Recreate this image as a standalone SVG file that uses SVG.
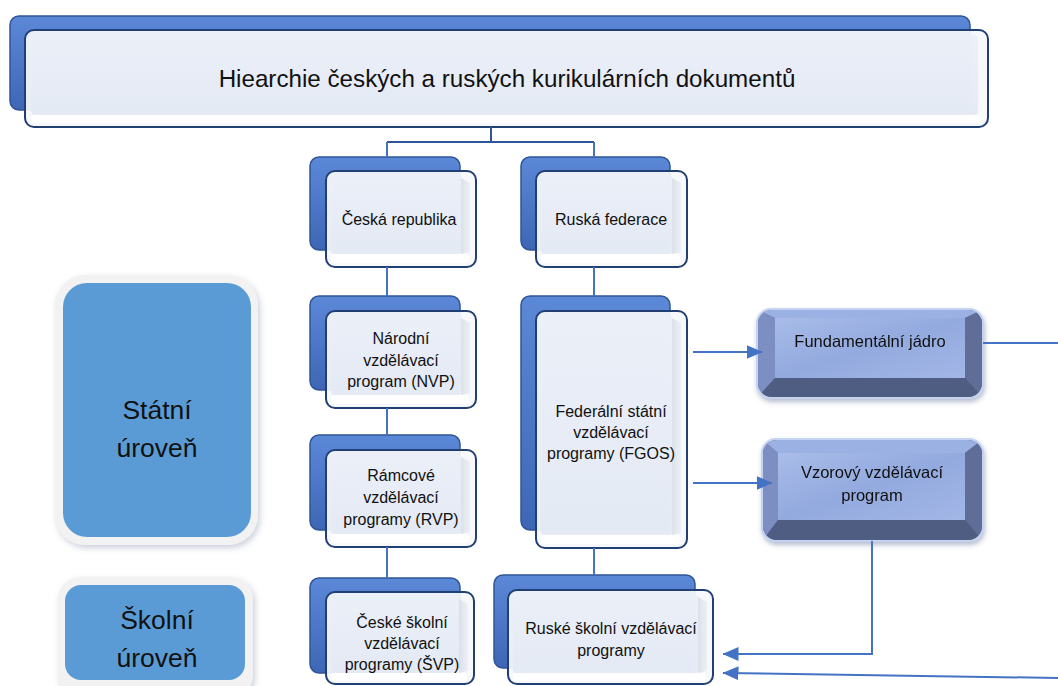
<svg xmlns="http://www.w3.org/2000/svg" width="1058" height="686" viewBox="0 0 1058 686">
  <defs>
    <linearGradient id="backGrad" x1="0" y1="0" x2="0" y2="1">
      <stop offset="0" stop-color="#5C88D8"/>
      <stop offset="1" stop-color="#3E66B5"/>
    </linearGradient>
    <linearGradient id="faceGrad" x1="0" y1="0" x2="0" y2="1">
      <stop offset="0" stop-color="#EBEFF8"/>
      <stop offset="1" stop-color="#E3E9F4"/>
    </linearGradient>
    <linearGradient id="rightBevel" x1="0" y1="0" x2="1" y2="0">
      <stop offset="0" stop-color="#D6DBE5"/>
      <stop offset="1" stop-color="#E9EDF4"/>
    </linearGradient>
    <linearGradient id="bevelFace" x1="0" y1="0" x2="1" y2="1">
      <stop offset="0" stop-color="#A9BCE9"/>
      <stop offset="0.5" stop-color="#93AADF"/>
      <stop offset="1" stop-color="#A3B7E6"/>
    </linearGradient>
    <filter id="softShadow" x="-10%" y="-10%" width="125%" height="125%">
      <feDropShadow dx="2" dy="3" stdDeviation="3" flood-color="#6A7A99" flood-opacity="0.35"/>
    </filter>
    <filter id="glow" x="-10%" y="-10%" width="120%" height="125%">
      <feDropShadow dx="1" dy="3" stdDeviation="2.5" flood-color="#5B6B90" flood-opacity="0.45"/>
    </filter>
    <clipPath id="clipFund"><rect x="758" y="310" width="224" height="87" rx="14"/></clipPath>
    <clipPath id="clipVzor"><rect x="763" y="440" width="219" height="100" rx="14"/></clipPath>
    <marker id="arrow" viewBox="0 0 16 14" refX="15.5" refY="7" markerWidth="16" markerHeight="14" markerUnits="userSpaceOnUse" orient="auto">
      <path d="M0,0 L16,7 L0,14 Z" fill="#4472C4"/>
    </marker>
    <style>
      .back { fill: url(#backGrad); stroke: #2F5597; stroke-width: 1.5; }
      .front { fill: #F5F7FB; fill-opacity: 0.93; stroke: #213F73; stroke-width: 2; }
      .face { fill: url(#faceGrad); fill-opacity: 0.9; }
      .rbevel { fill: url(#rightBevel); fill-opacity: 0.8; }
      .bbevel { fill: #FFFFFF; }
      .conn { fill: none; stroke: #4472C4; stroke-width: 2; }
      .trunk { fill: none; stroke: #2F5597; stroke-width: 2; }
      .lbl { font-family: "Liberation Sans", Arial, sans-serif; font-size: 16px; fill: #111; text-anchor: middle; }
      .title { font-family: "Liberation Sans", Arial, sans-serif; font-size: 24.2px; fill: #111; text-anchor: middle; }
      .lvl { font-family: "Liberation Sans", Arial, sans-serif; font-size: 26.5px; fill: #111; text-anchor: middle; }
      .blbl { font-family: "Liberation Sans", Arial, sans-serif; font-size: 16.5px; fill: #111; text-anchor: middle; }
      .frame { fill: #F2F2F2; filter: url(#softShadow); }
      .levelFill { fill: #5B9BD5; }
    </style>
  </defs>

  <rect width="1058" height="686" fill="#FFFFFF"/>

  <!-- title -->
  <g id="title">
    <rect class="back" x="10" y="16" width="960" height="94" rx="9"/>
    <rect class="front" x="25" y="30" width="963" height="97" rx="9"/>
    <rect class="face" x="31" y="35" width="947" height="80" rx="4"/>
    <rect class="bbevel" x="31" y="115" width="950" height="8" rx="3"/>
    <text class="title" x="507" y="87">Hiearchie českých a ruských kurikulárních dokumentů</text>
  </g>

  <!-- level labels -->
  <g id="statni-uroven">
    <rect class="frame" x="55" y="275" width="203" height="270" rx="30"/>
    <rect class="levelFill" x="63" y="283" width="188" height="254" rx="24"/>
    <text class="lvl" x="157" y="419">Státní</text>
    <text class="lvl" x="157" y="457">úroveň</text>
  </g>
  <g id="skolni-uroven">
    <rect class="frame" x="58" y="577" width="195" height="120" rx="22"/>
    <rect class="levelFill" x="65" y="585" width="180" height="95" rx="16"/>
    <text class="lvl" x="157" y="629">Školní</text>
    <text class="lvl" x="157" y="667">úroveň</text>
  </g>

  <!-- Czech column -->
  <g id="ceska-republika">
    <rect class="back" x="310" y="157" width="150" height="93" rx="9"/>
    <rect class="front" x="326" y="171" width="150" height="96" rx="9"/>
    <rect class="face" x="331" y="176" width="130" height="78" rx="3"/>
    <polygon class="rbevel" points="461,178 470,183 470,252 461,254"/>
    <rect class="bbevel" x="331" y="254" width="138" height="9" rx="3"/>
    <text class="lbl" x="399" y="225">Česká republika</text>
  </g>
  <g id="nvp">
    <rect class="back" x="310" y="296" width="150" height="94" rx="9"/>
    <rect class="front" x="326" y="311" width="150" height="97" rx="9"/>
    <rect class="face" x="331" y="316" width="130" height="79" rx="3"/>
    <polygon class="rbevel" points="461,318 470,323 470,393 461,395"/>
    <rect class="bbevel" x="331" y="395" width="138" height="9" rx="3"/>
    <text class="lbl" x="401" y="344">Národní</text>
    <text class="lbl" x="401" y="366">vzdělávací</text>
    <text class="lbl" x="401" y="387">program (NVP)</text>
  </g>
  <g id="rvp">
    <rect class="back" x="310" y="435" width="150" height="95" rx="9"/>
    <rect class="front" x="326" y="450" width="150" height="97" rx="9"/>
    <rect class="face" x="331" y="455" width="130" height="79" rx="3"/>
    <polygon class="rbevel" points="461,457 470,462 470,532 461,534"/>
    <rect class="bbevel" x="331" y="534" width="138" height="9" rx="3"/>
    <text class="lbl" x="401" y="481">Rámcové</text>
    <text class="lbl" x="401" y="503">vzdělávací</text>
    <text class="lbl" x="401" y="525">programy (RVP)</text>
  </g>
  <g id="cs-svp">
    <rect class="back" x="310" y="578" width="150" height="95" rx="9"/>
    <rect class="front" x="326" y="592" width="148" height="92" rx="9"/>
    <rect class="face" x="331" y="597" width="128" height="76" rx="3"/>
    <polygon class="rbevel" points="459,599 468,604 468,671 459,673"/>
    <rect class="bbevel" x="331" y="673" width="136" height="8" rx="3"/>
    <text class="lbl" x="402" y="628">České školní</text>
    <text class="lbl" x="402" y="649">vzdělávací</text>
    <text class="lbl" x="402" y="670">programy (ŠVP)</text>
  </g>

  <!-- Russian column -->
  <g id="ruska-federace">
    <rect class="back" x="521" y="157" width="149" height="93" rx="9"/>
    <rect class="front" x="536" y="171" width="151" height="96" rx="9"/>
    <rect class="face" x="541" y="176" width="131" height="78" rx="3"/>
    <polygon class="rbevel" points="672,178 681,183 681,252 672,254"/>
    <rect class="bbevel" x="541" y="254" width="139" height="9" rx="3"/>
    <text class="lbl" x="611" y="225">Ruská federace</text>
  </g>
  <g id="fgos">
    <rect class="back" x="521" y="296" width="149" height="234" rx="9"/>
    <rect class="front" x="536" y="311" width="151" height="237" rx="9"/>
    <rect class="face" x="541" y="316" width="131" height="219" rx="3"/>
    <polygon class="rbevel" points="672,318 681,323 681,533 672,535"/>
    <rect class="bbevel" x="541" y="535" width="139" height="9" rx="3"/>
    <text class="lbl" x="611" y="417">Federální státní</text>
    <text class="lbl" x="611" y="438">vzdělávací</text>
    <text class="lbl" x="611" y="459">programy (FGOS)</text>
  </g>
  <g id="ru-svp">
    <rect class="back" x="494" y="575" width="201" height="93" rx="9"/>
    <rect class="front" x="508" y="590" width="205" height="94" rx="9"/>
    <rect class="face" x="513" y="595" width="185" height="78" rx="3"/>
    <polygon class="rbevel" points="698,597 707,602 707,671 698,673"/>
    <rect class="bbevel" x="513" y="673" width="193" height="8" rx="3"/>
    <text class="lbl" x="611" y="634">Ruské školní vzdělávací</text>
    <text class="lbl" x="611" y="656">programy</text>
  </g>

  <!-- supporting documents -->
  <g id="fundamentalni-jadro" filter="url(#glow)">
    <rect x="756" y="308" width="228" height="91" rx="15" fill="#C3D3F1"/>
    <g clip-path="url(#clipFund)">
      <rect x="758" y="310" width="224" height="87" fill="#56638A"/>
      <polygon points="758,310 775,318 775,378 758,397" fill="#7B8EC2"/>
      <polygon points="758,310 982,310 965,318 775,318" fill="#9CB1E3"/>
      <polygon points="982,310 982,397 965,378 965,318" fill="#5F6D97"/>
      <polygon points="758,397 982,397 965,378 775,378" fill="#505D83"/>
      <rect x="775" y="318" width="190" height="60" fill="url(#bevelFace)"/>
    </g>
    <text class="blbl" x="870" y="347">Fundamentální jádro</text>
  </g>
  <g id="vzorovy-program" filter="url(#glow)">
    <rect x="761" y="438" width="223" height="104" rx="15" fill="#C3D3F1"/>
    <g clip-path="url(#clipVzor)">
      <rect x="763" y="440" width="219" height="100" fill="#56638A"/>
      <polygon points="763,440 778,453 778,520 763,540" fill="#7B8EC2"/>
      <polygon points="763,440 982,440 965,453 778,453" fill="#9CB1E3"/>
      <polygon points="982,440 982,540 965,520 965,453" fill="#5F6D97"/>
      <polygon points="763,540 982,540 965,520 778,520" fill="#505D83"/>
      <rect x="778" y="453" width="187" height="67" fill="url(#bevelFace)"/>
    </g>
    <text class="blbl" x="872" y="478">Vzorový vzdělávací</text>
    <text class="blbl" x="872" y="501">program</text>
  </g>

  <!-- connectors -->
  <g id="connectors">
    <path class="trunk" d="M491,127 V142 M387,142 H594"/>
    <path class="conn" d="M387,142 V157 M387,267 V296 M387,408 V435 M387,547 V578"/>
    <path class="conn" d="M594,142 V157 M594,267 V296 M594,548 V575"/>
    <path class="conn" d="M693,352 H762" marker-end="url(#arrow)"/>
    <path class="conn" d="M693,483 H772" marker-end="url(#arrow)"/>
    <path class="conn" d="M983,343 H1058"/>
    <path class="conn" d="M872,541 V654 H723" marker-end="url(#arrow)"/>
    <path class="conn" d="M1058,678 L723,673" marker-end="url(#arrow)"/>
  </g>
</svg>
